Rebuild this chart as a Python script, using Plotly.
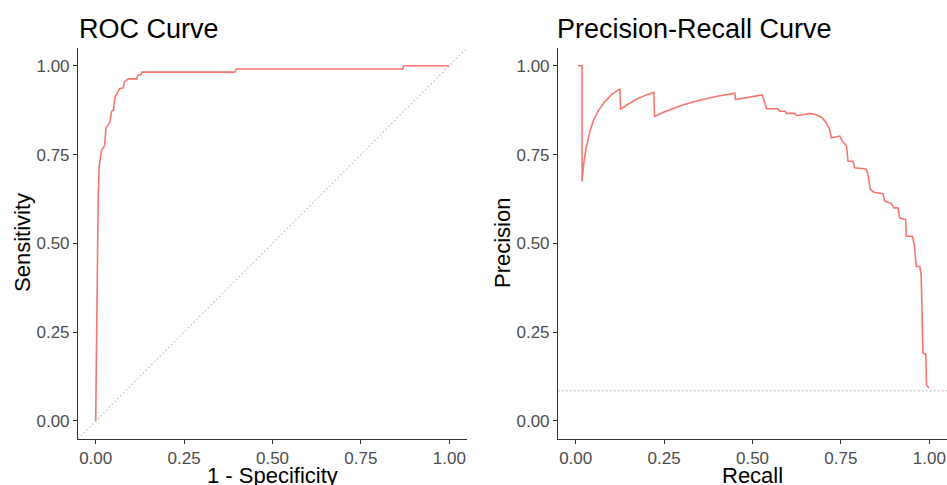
import plotly.graph_objects as go

# ---------------- data ----------------
roc_fpr = [0.000, 0.002, 0.004, 0.007, 0.010, 0.017, 0.025, 0.029, 0.036, 0.040,
           0.045, 0.050, 0.055, 0.059, 0.067, 0.078, 0.081, 0.092, 0.116, 0.119,
           0.128, 0.130, 0.393, 0.398, 0.868, 0.871, 1.000]
roc_tpr = [0.000, 0.250, 0.450, 0.623, 0.719, 0.763, 0.774, 0.825, 0.835, 0.841,
           0.872, 0.875, 0.914, 0.919, 0.935, 0.938, 0.954, 0.963, 0.963, 0.973,
           0.975, 0.982, 0.982, 0.991, 0.991, 1.000, 1.000]

pr_recall = [0.006, 0.018, 0.018, 0.022, 0.030, 0.040, 0.050, 0.065, 0.080, 0.100,
             0.125, 0.127, 0.150, 0.175, 0.200, 0.221, 0.223, 0.250, 0.300, 0.350,
             0.400, 0.450, 0.452, 0.490, 0.527, 0.530, 0.535, 0.540, 0.572, 0.577,
             0.592, 0.596, 0.620, 0.624, 0.645, 0.662, 0.680, 0.695, 0.701, 0.709,
             0.718, 0.723, 0.747, 0.754, 0.766, 0.770, 0.784, 0.789, 0.817, 0.822,
             0.827, 0.833, 0.843, 0.869, 0.874, 0.893, 0.899, 0.911, 0.916, 0.933,
             0.935, 0.952, 0.958, 0.963, 0.973, 0.977, 0.982, 0.990, 0.992, 0.999]
pr_precision = [1.000, 1.000, 0.674, 0.720, 0.770, 0.815, 0.846, 0.875, 0.896, 0.918,
                0.935, 0.877, 0.893, 0.907, 0.918, 0.925, 0.857, 0.870, 0.889, 0.903,
                0.914, 0.923, 0.905, 0.912, 0.918, 0.910, 0.897, 0.879, 0.879, 0.872,
                0.872, 0.866, 0.866, 0.860, 0.862, 0.866, 0.862, 0.855, 0.849, 0.839,
                0.821, 0.797, 0.802, 0.788, 0.774, 0.731, 0.731, 0.713, 0.710, 0.708,
                0.691, 0.652, 0.644, 0.640, 0.619, 0.612, 0.600, 0.600, 0.572, 0.567,
                0.520, 0.520, 0.494, 0.435, 0.435, 0.412, 0.192, 0.187, 0.102, 0.093]

pr_baseline = 0.085
tick_vals = [0, 0.25, 0.5, 0.75, 1.0]
tick_text = ["0.00", "0.25", "0.50", "0.75", "1.00"]

# ---------------- figure ----------------
W, H = 947, 485
LINE = "#F8766D"
FONT = "Liberation Sans, Arial, sans-serif"

fig = go.Figure()
fig.add_trace(go.Scatter(x=roc_fpr, y=roc_tpr, mode="lines",
                         line=dict(color=LINE, width=1.6), xaxis="x", yaxis="y",
                         showlegend=False, hoverinfo="skip"))
fig.add_trace(go.Scatter(x=pr_recall, y=pr_precision, mode="lines",
                         line=dict(color=LINE, width=1.6), xaxis="x2", yaxis="y2",
                         showlegend=False, hoverinfo="skip"))

dot = dict(color="#c4c4c4", width=1.3, dash="1.5px,2.5px")
fig.add_shape(type="line", xref="x", yref="y", x0=-0.05, y0=-0.05, x1=1.05, y1=1.05,
              line=dot, layer="below")
fig.add_shape(type="line", xref="x2 domain", yref="y2", x0=0, x1=1,
              y0=pr_baseline, y1=pr_baseline, line=dot, layer="below")

ydom = [(H - 438.7) / H, (H - 48) / H]
axis_common = dict(range=[-0.05, 1.05], tickvals=tick_vals, ticktext=tick_text,
                   showgrid=False, zeroline=False, showline=True,
                   linecolor="#333333", linewidth=1.1, ticks="outside", ticklen=4,
                   tickcolor="#333333", tickwidth=1.1,
                   tickfont=dict(family=FONT, size=17, color="#4d4d4d"),
                   fixedrange=True)

fig.update_layout(
    width=W, height=H, margin=dict(l=0, r=0, t=0, b=0),
    paper_bgcolor="white", plot_bgcolor="white",
    xaxis=dict(domain=[78 / W, 467 / W], anchor="y", **axis_common),
    yaxis=dict(domain=ydom, anchor="x", **axis_common),
    xaxis2=dict(domain=[558 / W, 1.0], anchor="y2", **axis_common),
    yaxis2=dict(domain=ydom, anchor="x2", **axis_common),
)

def ann(text, xpx, ypx, size, xanchor="center", angle=0, color="#000000"):
    fig.add_annotation(text=text, x=xpx / W, y=1 - ypx / H, xref="paper", yref="paper",
                       xanchor=xanchor, yanchor="middle", showarrow=False,
                       textangle=angle, font=dict(family=FONT, size=size, color=color))

ann("ROC Curve", 77, 29, 27, xanchor="left")
ann("Precision-Recall Curve", 555, 29, 27, xanchor="left")
ann("Sensitivity", 22, 243, 22, angle=-90)
ann("Precision", 502, 243, 22, angle=-90)
ann("1 - Specificity", 272.5, 475, 22)
ann("Recall", 752.5, 475, 22)

fig.write_html("out.html", config={"displayModeBar": False},
               post_script="document.body.style.margin='0';document.body.style.overflow='hidden';")
